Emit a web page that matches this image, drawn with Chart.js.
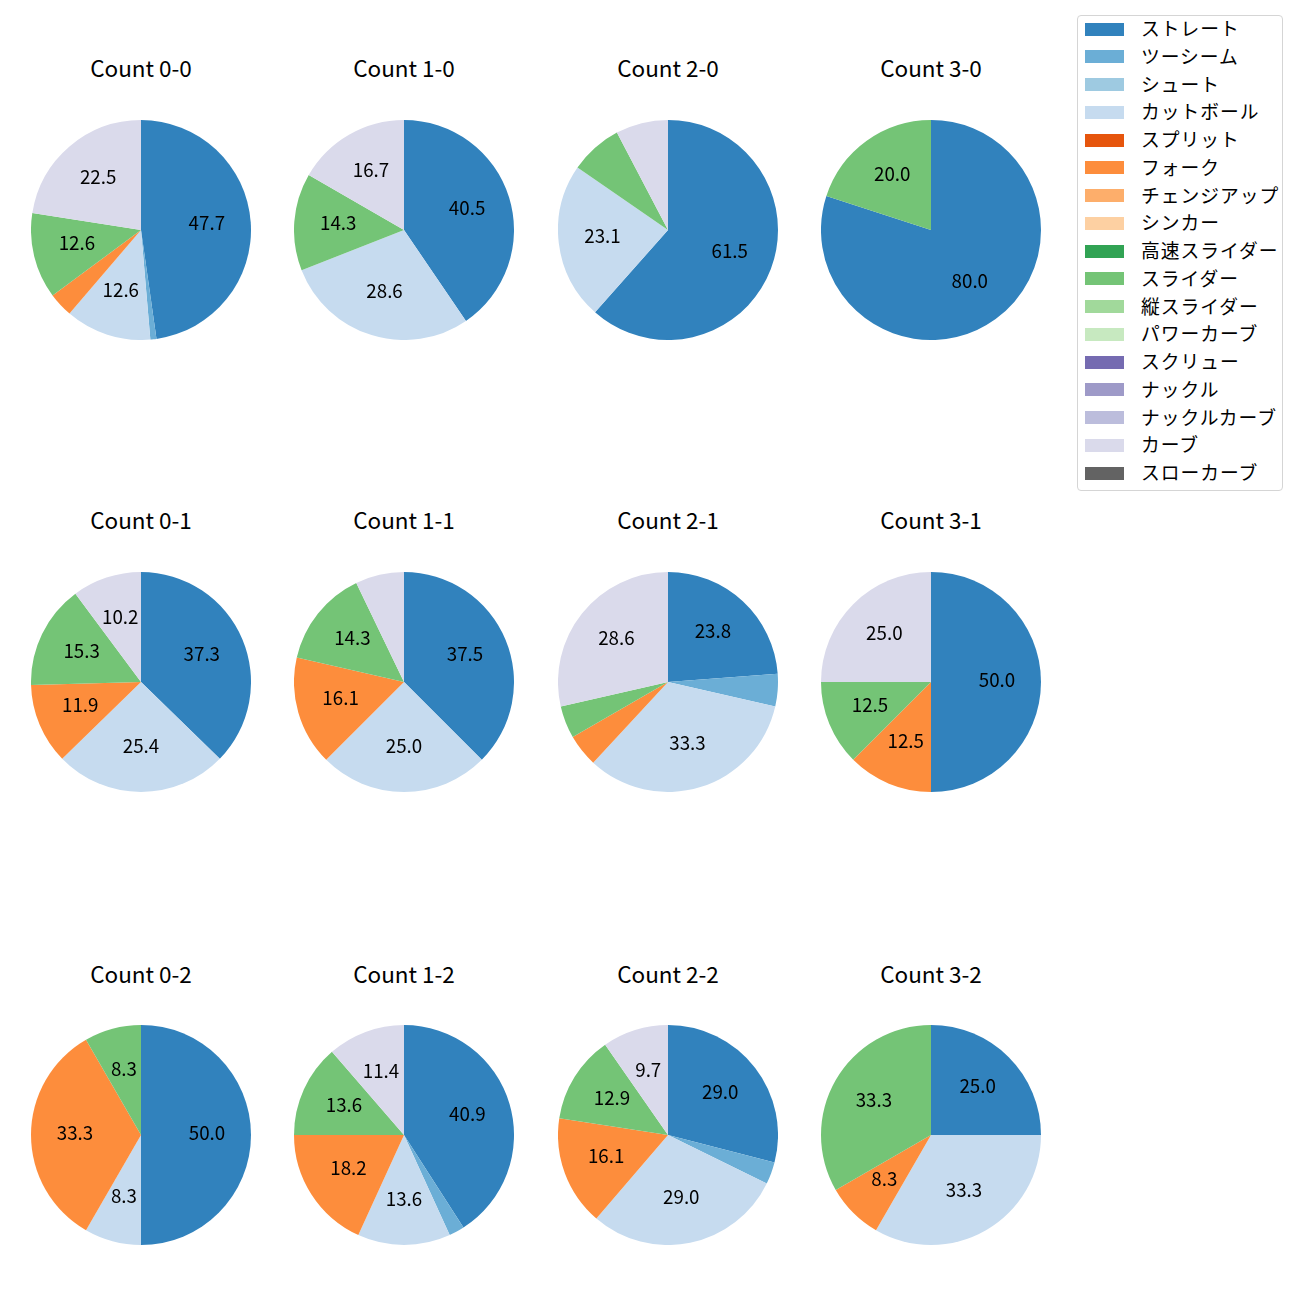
<!DOCTYPE html>
<html>
<head>
<meta charset="utf-8">
<script src="https://cdn.jsdelivr.net/npm/chart.js@4.4.0/dist/chart.umd.min.js"></script>
<style>
  html, body { margin: 0; padding: 0; background: #ffffff; }
  body { width: 1300px; height: 1300px; position: relative; overflow: hidden;
         font-family: "Noto Sans CJK JP", "Noto Sans", sans-serif; color: #000; }
  .title { position: absolute; width: 260px; height: 30px; line-height: 30px;
           text-align: center; font-size: 22.5px; white-space: nowrap; }
  canvas { position: absolute; }
  #legend { position: absolute; left: 1077px; top: 15px; width: 204px; height: 474px;
            border: 1px solid #d5d5d5; border-radius: 4px; background: #fff; }
  .item { position: absolute; left: 0; height: 26px; width: 200px; }
  .patch { position: absolute; left: 7px; width: 39px; height: 13px; }
  .lab { position: absolute; left: 63px; font-size: 18.75px; letter-spacing: 1px; white-space: nowrap; line-height: 26px; }
</style>
</head>
<body>
<div id="legend"></div>
<script>
// ---- data ----
const pitchTypes = ['ストレート','ツーシーム','シュート','カットボール','スプリット','フォーク','チェンジアップ','シンカー','高速スライダー','スライダー','縦スライダー','パワーカーブ','スクリュー','ナックル','ナックルカーブ','カーブ','スローカーブ'];
const pitchColors = ['#3182bd','#6baed6','#9ecae1','#c6dbef','#e6550d','#fd8d3c','#fdae6b','#fdd0a2','#31a354','#74c476','#a1d99b','#c7e9c0','#756bb1','#9e9ac8','#bcbddc','#dadaeb','#636363'];
const chartTitles = ['Count 0-0','Count 1-0','Count 2-0','Count 3-0','Count 0-1','Count 1-1','Count 2-1','Count 3-1','Count 0-2','Count 1-2','Count 2-2','Count 3-2'];
//                 St Tw Sh Ct Sp Fk Ch Si HS Sl VS PC Sc Kn KC Cv SC
const count00 = [53, 1, 0,14, 0, 4, 0, 0, 0,14, 0, 0, 0, 0, 0,25, 0];
const count10 = [17, 0, 0,12, 0, 0, 0, 0, 0, 6, 0, 0, 0, 0, 0, 7, 0];
const count20 = [ 8, 0, 0, 3, 0, 0, 0, 0, 0, 1, 0, 0, 0, 0, 0, 1, 0];
const count30 = [ 4, 0, 0, 0, 0, 0, 0, 0, 0, 1, 0, 0, 0, 0, 0, 0, 0];
const count01 = [22, 0, 0,15, 0, 7, 0, 0, 0, 9, 0, 0, 0, 0, 0, 6, 0];
const count11 = [21, 0, 0,14, 0, 9, 0, 0, 0, 8, 0, 0, 0, 0, 0, 4, 0];
const count21 = [ 5, 1, 0, 7, 0, 1, 0, 0, 0, 1, 0, 0, 0, 0, 0, 6, 0];
const count31 = [ 4, 0, 0, 0, 0, 1, 0, 0, 0, 1, 0, 0, 0, 0, 0, 2, 0];
const count02 = [ 6, 0, 0, 1, 0, 4, 0, 0, 0, 1, 0, 0, 0, 0, 0, 0, 0];
const count12 = [18, 1, 0, 6, 0, 8, 0, 0, 0, 6, 0, 0, 0, 0, 0, 5, 0];
const count22 = [ 9, 1, 0, 9, 0, 5, 0, 0, 0, 4, 0, 0, 0, 0, 0, 3, 0];
const count32 = [ 3, 0, 0, 4, 0, 1, 0, 0, 0, 4, 0, 0, 0, 0, 0, 0, 0];
const allCounts = [count00,count10,count20,count30,count01,count11,count21,count31,count02,count12,count22,count32];
const labelThreshold = 8; // percent

// ---- layout ----
const colX = [141, 404, 668, 931];
const rowY = [229.5, 681.5, 1135];
const R = 110;

const pctLabels = {
  id: 'pctLabels',
  afterDatasetsDraw(chart) {
    const ctx = chart.ctx;
    const ds = chart.data.datasets[0].data;
    const total = ds.reduce((a, b) => a + b, 0);
    const meta = chart.getDatasetMeta(0);
    ctx.save();
    ctx.font = '18.75px "Noto Sans CJK JP", "Noto Sans", sans-serif';
    ctx.fillStyle = '#000';
    ctx.textAlign = 'center';
    ctx.textBaseline = 'middle';
    meta.data.forEach((arc, i) => {
      const pct = ds[i] / total * 100;
      if (pct < labelThreshold) return;
      const p = arc.getProps(['x','y','startAngle','endAngle','outerRadius'], true);
      const mid = (p.startAngle + p.endAngle) / 2;
      const r = p.outerRadius * 0.6;
      ctx.fillText(pct.toFixed(1), p.x + Math.cos(mid) * r, p.y + Math.sin(mid) * r - 2.5);
    });
    ctx.restore();
  }
};

allCounts.forEach((counts, k) => {
  const cx = colX[k % 4], cy = rowY[Math.floor(k / 4)];
  const t = document.createElement('div');
  t.className = 'title';
  t.textContent = chartTitles[k];
  t.style.left = (cx - 130) + 'px';
  t.style.top = (cy - 162.5 - 15) + 'px';
  document.body.appendChild(t);

  const c = document.createElement('canvas');
  c.width = 2 * R; c.height = 2 * R;
  c.style.width = 2 * R + 'px'; c.style.height = 2 * R + 'px';
  c.style.left = (cx - R) + 'px'; c.style.top = (cy - R) + 'px';
  document.body.appendChild(c);
  new Chart(c, {
    type: 'pie',
    data: { labels: pitchTypes, datasets: [{ data: counts, backgroundColor: pitchColors, borderWidth: 0, hoverOffset: 0 }] },
    options: {
      responsive: false, animation: false, devicePixelRatio: 1,
      layout: { padding: 0 },
      plugins: { legend: { display: false }, tooltip: { enabled: false } },
      events: []
    },
    plugins: [pctLabels]
  });
});

// legend
const leg = document.getElementById('legend');
pitchTypes.forEach((name, i) => {
  const it = document.createElement('div');
  it.className = 'item';
  it.style.top = (14 - 1 + 27.75 * i - 13) + 'px';
  const p = document.createElement('div');
  p.className = 'patch'; p.style.background = pitchColors[i]; p.style.top = '6.5px';
  const l = document.createElement('div');
  l.className = 'lab'; l.textContent = name; l.style.top = '-1px';
  it.appendChild(p); it.appendChild(l);
  leg.appendChild(it);
});
</script>
</body>
</html>
